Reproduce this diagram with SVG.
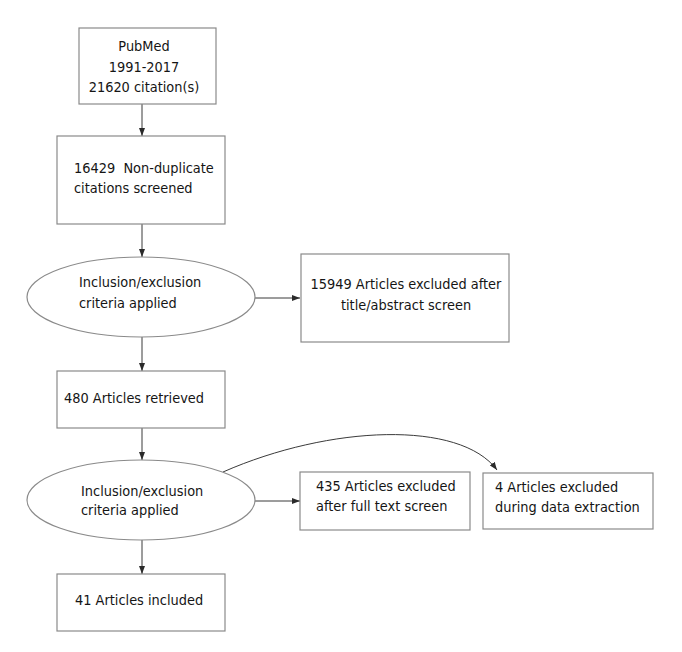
<svg xmlns="http://www.w3.org/2000/svg" width="682" height="652" viewBox="0 0 682 652">
<style>
.b{fill:#fff;stroke:#8a8a8a;stroke-width:1.2}
.t{font-family:"DejaVu Sans Condensed","DejaVu Sans",sans-serif;font-size:14.4px;fill:#151515}
.c{fill:none;stroke:#3a3a3a;stroke-width:1}
</style>
<defs>
<marker id="ah" markerWidth="8" markerHeight="6" refX="8" refY="3" orient="auto" markerUnits="userSpaceOnUse">
<path d="M0,0 L8,3 L0,6 z" fill="#2a2a2a"/>
</marker>
</defs>
<rect width="682" height="652" fill="#fff"/>
<g id="connectors">
<line class="c" x1="142" y1="104" x2="142" y2="136" marker-end="url(#ah)"/>
<line class="c" x1="142" y1="224" x2="142" y2="257" marker-end="url(#ah)"/>
<line class="c" x1="255" y1="298" x2="300" y2="298" marker-end="url(#ah)"/>
<line class="c" x1="142" y1="337" x2="142" y2="371" marker-end="url(#ah)"/>
<line class="c" x1="142" y1="428" x2="142" y2="460" marker-end="url(#ah)"/>
<line class="c" x1="255" y1="501" x2="300" y2="501" marker-end="url(#ah)"/>
<path class="c" d="M223,472 C330,425 460,420 497,470" marker-end="url(#ah)"/>
<line class="c" x1="142" y1="540" x2="142" y2="574" marker-end="url(#ah)"/>
</g>
<g id="pubmed">
<rect class="b" x="79" y="28" width="137" height="76"/>
<text class="t" x="144" y="51" text-anchor="middle">PubMed</text>
<text class="t" x="144" y="72" text-anchor="middle">1991-2017</text>
<text class="t" x="144" y="92" text-anchor="middle">21620 citation(s)</text>
</g>
<g id="nondup">
<rect class="b" x="57" y="136" width="168" height="88"/>
<text class="t" x="74" y="173" xml:space="preserve">16429  Non-duplicate</text>
<text class="t" x="74" y="193">citations screened</text>
</g>
<g id="criteria1">
<ellipse class="b" cx="141" cy="297" rx="114" ry="40"/>
<text class="t" x="79" y="287">Inclusion/exclusion</text>
<text class="t" x="79" y="308">criteria applied</text>
</g>
<g id="excluded1">
<rect class="b" x="301" y="254" width="208" height="88"/>
<text class="t" x="406" y="289" text-anchor="middle">15949 Articles excluded after</text>
<text class="t" x="406" y="310" text-anchor="middle">title/abstract screen</text>
</g>
<g id="retrieved">
<rect class="b" x="57" y="371" width="168" height="57"/>
<text class="t" x="64" y="403">480 Articles retrieved</text>
</g>
<g id="criteria2">
<ellipse class="b" cx="141" cy="500" rx="114" ry="40"/>
<text class="t" x="81" y="496">Inclusion/exclusion</text>
<text class="t" x="81" y="515">criteria applied</text>
</g>
<g id="excluded2">
<rect class="b" x="300" y="472" width="170" height="58"/>
<text class="t" x="316" y="491">435 Articles excluded</text>
<text class="t" x="316" y="511">after full text screen</text>
</g>
<g id="excluded3">
<rect class="b" x="483" y="473" width="170" height="56"/>
<text class="t" x="495" y="492">4 Articles excluded</text>
<text class="t" x="495" y="512">during data extraction</text>
</g>
<g id="included">
<rect class="b" x="57" y="574" width="168" height="57"/>
<text class="t" x="75" y="605">41 Articles included</text>
</g>
</svg>
